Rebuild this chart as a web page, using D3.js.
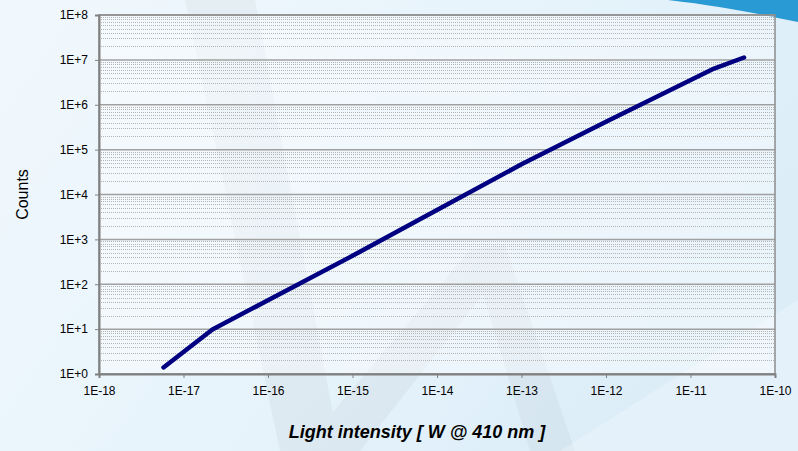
<!DOCTYPE html>
<html>
<head>
<meta charset="utf-8">
<script src="https://cdn.jsdelivr.net/npm/d3@7"></script>
<style>
  body { margin: 0; padding: 0; overflow: hidden; }
  svg { display: block; font-family: "Liberation Sans", Arial, sans-serif; }
</style>
</head>
<body>
<svg id="chart"></svg>
<script>
// light intensity [W] and measured counts
const intensity = [5.8e-18, 2.2e-17, 1e-16, 1e-15, 1e-14, 1e-13, 1e-12, 1.9e-11, 4.3e-11];
const counts = [1.4, 9.8, 44, 430, 4500, 47000, 420000, 6.4e6, 1.13e7];

const xTicks = [1e-18, 1e-17, 1e-16, 1e-15, 1e-14, 1e-13, 1e-12, 1e-11, 1e-10];
const yTicks = [1e0, 1e1, 1e2, 1e3, 1e4, 1e5, 1e6, 1e7, 1e8];

const WIDTH = 798;
const HEIGHT = 451;
const PADDING = { LEFT: 99, RIGHT: 23, TOP: 15, BOTTOM: 77 };

const svg = d3.select("#chart")
  .attr("width", WIDTH)
  .attr("height", HEIGHT);

// background gradient
const defs = svg.append("defs");
const bg = defs.append("linearGradient")
  .attr("id", "bg").attr("x1", 0).attr("y1", 0).attr("x2", 1).attr("y2", 0.4);
bg.append("stop").attr("offset", "0%").attr("stop-color", "#f1f8fd");
bg.append("stop").attr("offset", "60%").attr("stop-color", "#e6f3fb");
bg.append("stop").attr("offset", "100%").attr("stop-color", "#dcedf8");

svg.append("rect").attr("width", WIDTH).attr("height", HEIGHT).attr("fill", "url(#bg)");

// faint watermark strokes
const mark = svg.append("g").attr("fill", "#9aa3aa").attr("opacity", 0.1);
mark.append("path").attr("d", "M185,0 L255,0 L340,451 L280,451 Z");
mark.append("path").attr("d", "M300,451 L470,250 L510,260 L360,451 Z");
mark.append("path").attr("d", "M470,250 L505,245 L575,451 L530,451 Z");
svg.append("path")
  .attr("d", "M560,451 L798,300 L798,451 Z")
  .attr("fill", "#ffffff").attr("opacity", 0.25);

// top right swoosh
svg.append("path")
  .attr("d", "M668,0 L798,0 L798,22 C760,14 720,6 668,0 Z")
  .attr("fill", "#2a9ad5");

// scales
const xScale = d3.scaleLog()
  .domain([1e-18, 1e-10])
  .range([PADDING.LEFT, WIDTH - PADDING.RIGHT]);
const yScale = d3.scaleLog()
  .domain([1, 1e8])
  .range([HEIGHT - PADDING.BOTTOM, PADDING.TOP]);

const x0 = xScale.range()[0], x1 = xScale.range()[1];
const y0 = yScale.range()[0], y1 = yScale.range()[1];

// plot area
svg.append("rect")
  .attr("x", x0).attr("y", y1)
  .attr("width", x1 - x0).attr("height", y0 - y1)
  .attr("fill", "#ffffff").attr("opacity", 0.4);

// minor grid lines
const minor = [];
yTicks.slice(0, -1).forEach(function(t) {
  for (let k = 2; k <= 9; k++) minor.push(t * k);
});
svg.append("g").selectAll("line")
  .data(minor)
  .enter()
  .append("line")
    .attr("x1", x0).attr("x2", x1)
    .attr("y1", d => Math.round(yScale(d)) + 0.5)
    .attr("y2", d => Math.round(yScale(d)) + 0.5)
    .attr("stroke", "#b4b4b4")
    .attr("stroke-width", 1)
    .attr("stroke-dasharray", "1,1");

// major grid lines
svg.append("g").selectAll("line")
  .data(yTicks)
  .enter()
  .append("line")
    .attr("x1", x0).attr("x2", x1)
    .attr("y1", d => yScale(d))
    .attr("y2", d => yScale(d))
    .attr("stroke", "#a0a0a0")
    .attr("stroke-width", 1.5);

// frame
svg.append("rect")
  .attr("x", x0).attr("y", y1)
  .attr("width", x1 - x0).attr("height", y0 - y1)
  .attr("fill", "none").attr("stroke", "#8c8c8c").attr("stroke-width", 1.5);

// axes
const xAxis = svg.append("g")
  .attr("transform", `translate(0,${y0})`)
  .call(d3.axisBottom(xScale).tickValues(xTicks).tickSize(4).tickPadding(8)
    .tickFormat(d => "1E" + Math.round(Math.log10(d))));
const yAxis = svg.append("g")
  .attr("transform", `translate(${x0},0)`)
  .call(d3.axisLeft(yScale).tickValues(yTicks).tickSize(4).tickPadding(7)
    .tickFormat(d => "1E+" + Math.round(Math.log10(d))));

[xAxis, yAxis].forEach(function(ax) {
  ax.select(".domain").attr("stroke", "#808080").attr("stroke-width", 2);
  ax.selectAll(".tick line").attr("stroke", "#808080").attr("stroke-width", 1);
  ax.selectAll(".tick text")
    .attr("fill", "#000")
    .style("font-size", "12px")
    .style("font-family", "'Liberation Sans', Arial, sans-serif");
});

// data line
const points = intensity.map((d, i) => [d, counts[i]]);
svg.append("path")
  .datum(points)
  .attr("fill", "none")
  .attr("stroke", "#000080")
  .attr("stroke-width", 4.5)
  .attr("stroke-linejoin", "round")
  .attr("stroke-linecap", "round")
  .attr("d", d3.line().x(d => xScale(d[0])).y(d => yScale(d[1])));

// titles
svg.append("text")
  .attr("transform", `translate(28,${(y0 + y1) / 2}) rotate(-90)`)
  .style("text-anchor", "middle")
  .style("font-size", "16px")
  .text("Counts");

svg.append("text")
  .attr("x", 417)
  .attr("y", 438)
  .style("text-anchor", "middle")
  .style("font-size", "18px")
  .style("font-weight", "bold")
  .style("font-style", "italic")
  .text("Light intensity [ W @ 410 nm ]");
</script>
</body>
</html>
